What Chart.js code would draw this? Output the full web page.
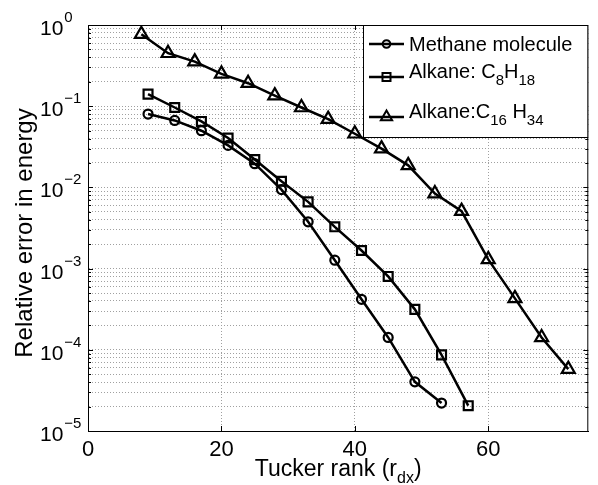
<!DOCTYPE html>
<html>
<head>
<meta charset="utf-8">
<script src="https://cdn.jsdelivr.net/npm/chart.js@4.4.0/dist/chart.umd.min.js"></script>
<style>
  html, body { margin: 0; padding: 0; background: #fff; }
  #wrap { width: 598px; height: 485px; position: relative; }
</style>
</head>
<body>
<div id="wrap"><canvas id="chart"></canvas></div>
<script>
// values
const methaneRank = [9, 13, 17, 21, 25, 29, 33, 37, 41, 45, 49, 53];
const methaneErr = [0.080, 0.0668, 0.0499, 0.0329, 0.0196, 0.0094, 0.00377, 0.00127, 0.000419, 0.000142, 0.0000403, 0.0000221];

const octaneRank = [9, 13, 17, 21, 25, 29, 33, 37, 41, 45, 49, 53, 57];
const octaneErr = [0.141, 0.0964, 0.0649, 0.0406, 0.022, 0.0119, 0.00664, 0.00327, 0.00167, 0.00080, 0.000315, 0.0000866, 0.0000205];

const hexadecaneRank = [8, 12, 16, 20, 24, 28, 32, 36, 40, 44, 48, 52, 56, 60, 64, 68, 72];
const hexadecaneErr = [0.77, 0.449, 0.354, 0.25, 0.192, 0.135, 0.0964, 0.0693, 0.0458, 0.030, 0.0187, 0.0084, 0.0051, 0.0013, 0.00043, 0.000142, 0.0000578];

const xTicks = [0, 20, 40, 60];
const yExponents = [-5, -4, -3, -2, -1, 0];
const xLabel = [['Tucker rank (r', 0], ['dx', 1], [')', 0]];
const yLabel = 'Relative error in energy';
const legendLabels = [
  [['Methane molecule', 0]],
  [['Alkane: C', 0], ['8', 1], ['H', 0], ['18', 1]],
  [['Alkane:C', 0], ['16', 1], [' H', 0], ['34', 1]]
];
const legendMarkers = ['circle', 'rect', 'triangle'];

const FONT = '"Liberation Sans", Arial, Helvetica, sans-serif';

// log grid: 1..9 x 10^k
const yTickValues = [];
yExponents.forEach(e => {
  if (e === 0) { yTickValues.push(1); return; }
  for (let m = 1; m <= 9; m++) yTickValues.push(+(m * Math.pow(10, e)).toPrecision(3));
});

function toPoints(xs, ys) {
  return xs.map((x, i) => ({ x: x, y: ys[i] }));
}

function drawRich(ctx, parts, x, base, size, subSize, subDrop) {
  parts.forEach(([txt, sub]) => {
    ctx.font = (sub ? subSize : size) + 'px ' + FONT;
    ctx.fillText(txt, x, sub ? base + subDrop : base);
    x += ctx.measureText(txt).width;
  });
  return x;
}

function richWidth(ctx, parts, size, subSize) {
  let w = 0;
  parts.forEach(([txt, sub]) => {
    ctx.font = (sub ? subSize : size) + 'px ' + FONT;
    w += ctx.measureText(txt).width;
  });
  return w;
}

function drawMarker(ctx, style, x, y) {
  ctx.beginPath();
  if (style === 'circle') {
    ctx.arc(x, y, 3.8, 0, Math.PI * 2);
  } else if (style === 'rect') {
    ctx.rect(x - 4, y - 4, 8, 8);
  } else {
    const r = 6.5;
    ctx.moveTo(x, y - r);
    ctx.lineTo(x + r * 0.866, y + r * 0.5);
    ctx.lineTo(x - r * 0.866, y + r * 0.5);
    ctx.closePath();
  }
  ctx.stroke();
}

const frame = {
  id: 'frame',
  beforeDatasetsDraw(chart) {
    const { ctx, chartArea: a, scales: { x, y } } = chart;
    ctx.save();
    ctx.strokeStyle = '#000';
    ctx.lineWidth = 1;
    // top and right edges of the box
    ctx.beginPath();
    ctx.moveTo(a.left, a.top + 0.5);
    ctx.lineTo(a.right - 0.5, a.top + 0.5);
    ctx.lineTo(a.right - 0.5, a.bottom);
    ctx.stroke();
    // inner tick marks
    ctx.beginPath();
    yTickValues.forEach(v => {
      const py = Math.round(y.getPixelForValue(v)) + 0.5;
      const len = Number.isInteger(Math.log10(v)) ? 5 : 3;
      ctx.moveTo(a.left, py); ctx.lineTo(a.left + len, py);
      ctx.moveTo(a.right, py); ctx.lineTo(a.right - len, py);
    });
    xTicks.forEach(v => {
      const px = Math.round(x.getPixelForValue(v)) + 0.5;
      ctx.moveTo(px, a.bottom); ctx.lineTo(px, a.bottom - 5);
      ctx.moveTo(px, a.top); ctx.lineTo(px, a.top + 5);
    });
    ctx.stroke();
    ctx.restore();
  },
  afterDraw(chart) {
    const { ctx, chartArea: a, scales: { y } } = chart;
    ctx.save();
    ctx.fillStyle = '#000';
    ctx.textAlign = 'left';
    ctx.textBaseline = 'alphabetic';

    // y tick labels 10^k
    yExponents.forEach(e => {
      const py = y.getPixelForValue(Math.pow(10, e));
      ctx.font = '21px ' + FONT;
      ctx.fillText('10', 40, py + 10);
      const w = ctx.measureText('10').width;
      ctx.font = '15px ' + FONT;
      ctx.fillText(e < 0 ? '\u2212' + (-e) : String(e), 40 + w + 1, py - 3);
    });

    // y title
    ctx.save();
    ctx.translate(32, 233);
    ctx.rotate(-Math.PI / 2);
    ctx.textAlign = 'center';
    ctx.font = '24px ' + FONT;
    ctx.fillText(yLabel, 0, 0);
    ctx.restore();

    // x title with subscript
    const xw = richWidth(ctx, xLabel, 23, 16);
    drawRich(ctx, xLabel, (a.left + a.right) / 2 - xw / 2, 476, 23, 16, 7);

    // legend
    const lx = 363, ly = a.top, lw = a.right - lx, lh = 112;
    ctx.fillStyle = '#fff';
    ctx.fillRect(lx, ly, lw, lh);
    ctx.strokeStyle = '#000';
    ctx.lineWidth = 1;
    ctx.strokeRect(lx + 0.5, ly + 0.5, lw - 1, lh);
    ctx.fillStyle = '#000';
    const rows = [44, 77, 117];
    rows.forEach((ry, i) => {
      ctx.lineWidth = 2.5;
      ctx.beginPath();
      ctx.moveTo(369, ry); ctx.lineTo(404, ry);
      ctx.stroke();
      ctx.lineWidth = 2;
      drawMarker(ctx, legendMarkers[i], 386.5, ry);
      const hasSub = legendLabels[i].some(p => p[1]);
      drawRich(ctx, legendLabels[i], 409, hasSub ? ry + 1 : ry + 7, 20, 15, 7);
    });
    ctx.restore();
  }
};

const ctx = document.getElementById('chart').getContext('2d');
new Chart(ctx, {
  type: 'line',
  data: {
    datasets: [
      {
        label: 'Methane molecule',
        data: toPoints(methaneRank, methaneErr),
        pointStyle: 'circle',
        pointRadius: 4.5
      },
      {
        label: 'Alkane: C8H18',
        data: toPoints(octaneRank, octaneErr),
        pointStyle: 'rect',
        pointRadius: 6.3
      },
      {
        label: 'Alkane:C16 H34',
        data: toPoints(hexadecaneRank, hexadecaneErr),
        pointStyle: 'triangle',
        pointRadius: 7.5
      }
    ]
  },
  options: {
    responsive: true,
    maintainAspectRatio: false,
    animation: false,
    layout: { padding: { top: 25, left: 0, right: 0, bottom: 0 } },
    elements: {
      line: { borderColor: '#000', borderWidth: 2.5, tension: 0, fill: false },
      point: {
        borderColor: '#000',
        backgroundColor: 'rgba(0,0,0,0)',
        borderWidth: 2.2,
        hoverRadius: 0
      }
    },
    scales: {
      x: {
        type: 'linear',
        min: 0,
        max: 75,
        afterBuildTicks: s => { s.ticks = xTicks.map(v => ({ value: v })); },
        afterFit: s => { s.height = 54; },
        grid: { color: '#a0a0a0', lineWidth: 1, drawTicks: false },
        border: { display: true, color: '#000', width: 1, dash: [1, 2] },
        ticks: {
          color: '#000',
          padding: 6,
          maxRotation: 0,
          font: { family: FONT, size: 22 }
        }
      },
      y: {
        type: 'logarithmic',
        min: 1e-5,
        max: 1,
        afterBuildTicks: s => { s.ticks = yTickValues.map(v => ({ value: v })); },
        afterFit: s => { s.width = 88; },
        grid: { color: '#a0a0a0', lineWidth: 1, drawTicks: false },
        border: { display: true, color: '#000', width: 1, dash: [1, 2] },
        ticks: { display: false }
      }
    },
    plugins: {
      legend: { display: false },
      tooltip: { enabled: false }
    }
  },
  plugins: [frame]
});
</script>
</body>
</html>
